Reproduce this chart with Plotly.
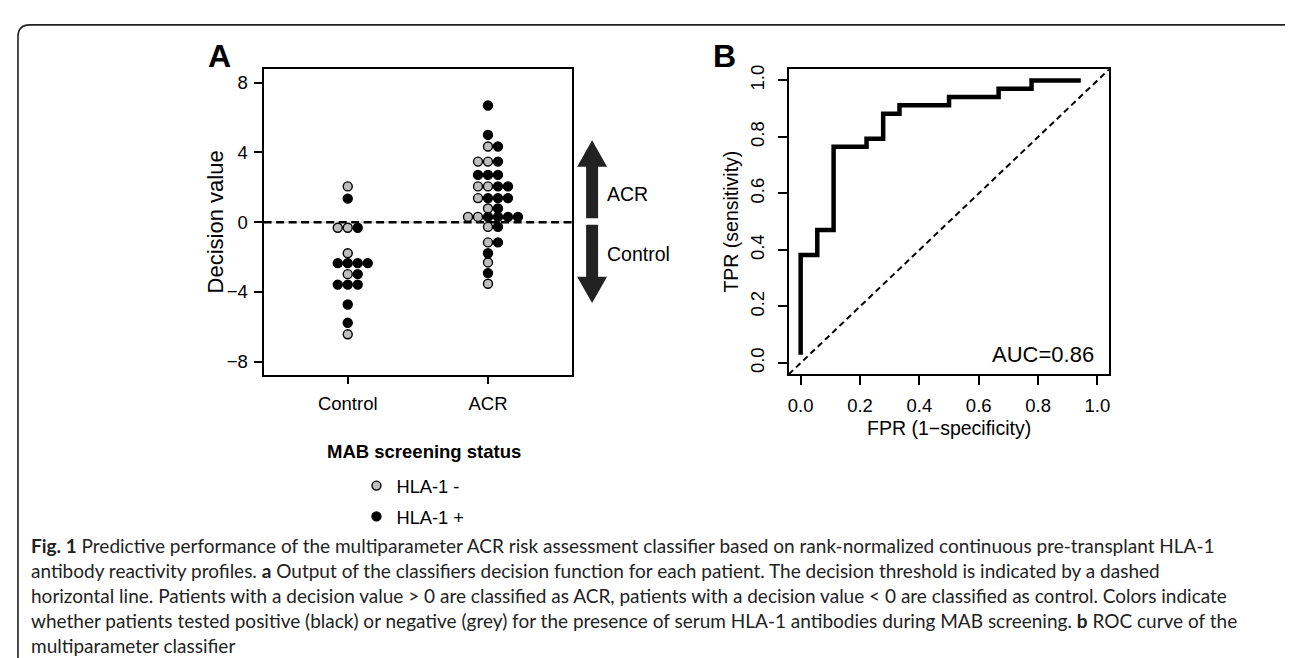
import plotly.graph_objects as go

W, H = 1293, 658

# ---------------- data: panel A (decision values, beeswarm) ----------------
categories = ["Control", "ACR"]
control_values = [2.05, 1.35, -0.32, -0.32, -0.32, -1.78, -2.35, -2.35, -2.35, -2.35,
                  -2.98, -2.98, -3.58, -3.58, -3.58, -4.72, -5.77, -6.43]
control_hla = ['-', '+', '-', '-', '+', '-', '+', '+', '+', '+',
               '-', '+', '+', '+', '+', '+', '+', '-']
acr_values = [6.69, 5.00, 4.34, 4.34, 3.47, 3.47, 3.47, 2.71, 2.71, 2.71,
              2.05, 2.05, 2.05, 2.05, 1.38, 1.38, 1.38, 1.38, 0.78, 0.78,
              0.30, 0.30, 0.30, 0.30, 0.30, 0.30, -0.27, -0.27, -1.16, -1.16,
              -1.78, -2.31, -2.92, -3.53]
acr_hla = ['+', '+', '-', '+', '-', '-', '+', '+', '+', '+',
           '-', '-', '+', '+', '-', '+', '+', '+', '-', '+',
           '-', '-', '+', '+', '+', '+', '-', '+', '-', '+',
           '+', '-', '+', '-']
y_ticks_a = [-8, -4, 0, 4, 8]
y_ticklabels_a = ["\u22128", "\u22124", "0", "4", "8"]

# ---------------- data: panel B (ROC curve corner points) ----------------
roc_fpr = [0.000, 0.000, 0.056, 0.056, 0.111, 0.111, 0.222, 0.222, 0.278, 0.278,
           0.333, 0.333, 0.500, 0.500, 0.667, 0.667, 0.778, 0.778, 0.944]
roc_tpr = [0.029, 0.382, 0.382, 0.471, 0.471, 0.765, 0.765, 0.794, 0.794, 0.882,
           0.882, 0.912, 0.912, 0.941, 0.941, 0.971, 0.971, 1.000, 1.000]
auc_text = "AUC=0.86"
b_ticks = [0.0, 0.2, 0.4, 0.6, 0.8, 1.0]
b_ticklabels = ["0.0", "0.2", "0.4", "0.6", "0.8", "1.0"]

caption_lines = [
    "<b>Fig. 1</b> Predictive performance of the multiparameter ACR risk assessment classifier based on rank-normalized continuous pre-transplant HLA-1",
    "antibody reactivity profiles. <b>a</b> Output of the classifiers decision function for each patient. The decision threshold is indicated by a dashed",
    "horizontal line. Patients with a decision value &gt; 0 are classified as ACR, patients with a decision value &lt; 0 are classified as control. Colors indicate",
    "whether patients tested positive (black) or negative (grey) for the presence of serum HLA-1 antibodies during MAB screening. <b>b</b> ROC curve of the",
    "multiparameter classifier",
]

# ---------------- layout geometry ----------------
def px(x):
    return x / W

def py(y):
    return 1 - y / H

A_L, A_R, A_T, A_B = 255, 564, 57, 365
B_L, B_R, B_T, B_B = 781, 1102, 57.5, 364.5
XA_RANGE = [-0.6, 1.6]
YA_RANGE = [-8.75, 8.8]
B_RANGE = [-0.04, 1.04]
DOT = 10  # px

FONT = "Liberation Sans, Arial, Helvetica, sans-serif"
CAPFONT = "Lato, Open Sans, sans-serif"


def swarm_offsets(values, step):
    """Simple grid beeswarm: points with equal value are spread side by side."""
    offsets = [0.0] * len(values)
    rows = {}
    for i, v in enumerate(values):
        rows.setdefault(v, []).append(i)
    for v, idx in rows.items():
        n = len(idx)
        start = -((n - 1) // 2)
        for k, i in enumerate(idx):
            offsets[i] = (start + k) * step
    return offsets


step = DOT * (XA_RANGE[1] - XA_RANGE[0]) / (A_R - A_L)
ctrl_off = swarm_offsets(control_values, step)
acr_off = swarm_offsets(acr_values, step)

pts = []
for v, h, o in zip(control_values, control_hla, ctrl_off):
    pts.append((0 + o, v, h))
for v, h, o in zip(acr_values, acr_hla, acr_off):
    pts.append((1 + o, v, h))

fig = go.Figure()

# zero threshold line (drawn below the points)
fig.add_shape(type="line", xref="x domain", yref="y", x0=0, x1=1, y0=0, y1=0,
              line=dict(color="#dddddd", width=2), layer="below")
fig.add_shape(type="line", xref="x domain", yref="y", x0=0, x1=1, y0=0, y1=0,
              line=dict(color="black", width=2.5, dash="8px,4.5px"), layer="below")

for hla, name, fill in [('-', "HLA-1 -", "#bebebe"), ('+', "HLA-1 +", "black")]:
    xs = [p[0] for p in pts if p[2] == hla]
    ys = [p[1] for p in pts if p[2] == hla]
    fig.add_trace(go.Scatter(
        x=xs, y=ys, mode="markers", name=name, legendgroup=name,
        marker=dict(size=9, color=fill, line=dict(color="black", width=1.4)),
        xaxis="x", yaxis="y", hoverinfo="skip",
    ))

# ROC curve
fig.add_trace(go.Scatter(
    x=roc_fpr, y=roc_tpr, mode="lines", showlegend=False,
    line=dict(color="black", width=4.5), xaxis="x2", yaxis="y2", hoverinfo="skip",
))
fig.add_shape(type="line", xref="x2", yref="y2", x0=B_RANGE[0], y0=B_RANGE[0],
              x1=B_RANGE[1], y1=B_RANGE[1],
              line=dict(color="black", width=2, dash="6px,4px"))

axis_common = dict(showgrid=False, zeroline=False, showline=True, mirror=True,
                   linecolor="black", linewidth=2, ticks="outside", tickwidth=2,
                   tickcolor="black", fixedrange=True,
                   tickfont=dict(family=FONT, size=18.5, color="black"))

fig.update_layout(
    width=W, height=H,
    margin=dict(l=0, r=0, t=0, b=0),
    paper_bgcolor="white", plot_bgcolor="white",
    font=dict(family=FONT, color="black"),
    xaxis=dict(domain=[px(A_L), px(A_R)], range=XA_RANGE, anchor="y",
               tickmode="array", tickvals=[0, 1], ticktext=categories,
               ticklen=7, ticklabelstandoff=4, **axis_common),
    yaxis=dict(domain=[py(A_B), py(A_T)], range=YA_RANGE, anchor="x",
               tickmode="array", tickvals=y_ticks_a, ticktext=y_ticklabels_a,
               ticklen=8, ticklabelstandoff=2, **axis_common),
    xaxis2=dict(domain=[px(B_L), px(B_R)], range=B_RANGE, anchor="y2",
                tickmode="array", tickvals=b_ticks, ticktext=b_ticklabels,
                ticklen=9, ticklabelstandoff=5, **axis_common),
    yaxis2=dict(domain=[py(B_B), py(B_T)], range=B_RANGE, anchor="x2",
                tickmode="array", tickvals=b_ticks, ticktext=b_ticklabels,
                tickangle=-90, ticklen=9, ticklabelstandoff=6, **axis_common),
    showlegend=True,
    legend=dict(x=px(348), y=py(458), xanchor="left", yanchor="top",
                bgcolor="rgba(0,0,0,0)", borderwidth=0, tracegroupgap=4,
                font=dict(family=FONT, size=18.3, color="black"),
                traceorder="grouped"),
)

ann = []
def text(x, y, t, size, xanchor="center", yanchor="middle", angle=0, family=FONT,
         color="black"):
    ann.append(dict(x=px(x), y=py(y), xref="paper", yref="paper", text=t,
                    showarrow=False, xanchor=xanchor, yanchor=yanchor,
                    textangle=angle, font=dict(family=family, size=size, color=color)))

text(211, 44, "<b>A</b>", 32)
text(717, 44, "<b>B</b>", 32)
text(207, 211, "Decision value", 22, angle=-90)
text(723, 211, "TPR (sensitivity)", 19.5, angle=-90)
text((B_L + B_R) / 2, 419, "FPR (1\u2212specificity)", 19.5)
text(1089, 345, auc_text, 22, xanchor="right")
text(597, 183, "ACR", 19.5, xanchor="left")
text(597, 243, "Control", 19.5, xanchor="left")
text(416, 442, "<b>MAB screening status</b>", 18.5)

cap_y = [537, 562, 587, 612, 637]
for line, yy in zip(caption_lines, cap_y):
    text(20, yy, line, 19, xanchor="left", family=CAPFONT, color="#222222")

fig.update_layout(annotations=ann)

# arrows (decoration next to panel A)
cx = 584
def arrow_path(y_base, y_head, y_tip):
    l6, r6 = px(cx - 6), px(cx + 6)
    l15, r15 = px(cx - 15), px(cx + 15)
    c = px(cx)
    return (f"M {l6} {y_base} L {l6} {y_head} L {l15} {y_head} L {c} {y_tip} "
            f"L {r15} {y_head} L {r6} {y_head} L {r6} {y_base} Z")

def val(ypx):
    return (211.7 - ypx) / 17.6

fig.add_shape(type="path", xref="paper", yref="y",
              path=arrow_path(val(207.7), val(155.7), val(129)),
              fillcolor="#222222", line=dict(width=0))
fig.add_shape(type="path", xref="paper", yref="y",
              path=arrow_path(val(214.3), val(266.7), val(293.3)),
              fillcolor="#222222", line=dict(width=0))

# outer rounded frame
r = 12
L, T, R, Bt = 9, 13, 1290, 700
frame = (f"M {px(L)} {py(Bt)} L {px(L)} {py(T + r)} Q {px(L)} {py(T)} {px(L + r)} {py(T)} "
         f"L {px(R - r)} {py(T)} Q {px(R)} {py(T)} {px(R)} {py(T + r)} L {px(R)} {py(Bt)}")
fig.add_shape(type="path", xref="paper", yref="paper", path=frame,
              line=dict(color="#222222", width=1.6))

fig.write_html("out.html")
